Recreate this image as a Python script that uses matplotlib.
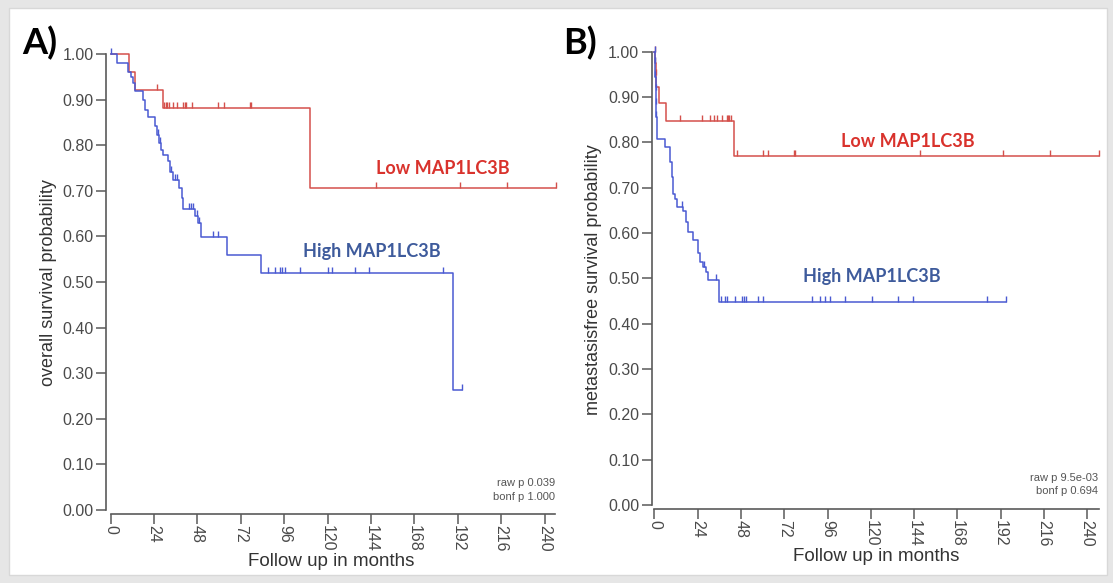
import numpy as np
import matplotlib
matplotlib.use("Agg")
import matplotlib.pyplot as plt
from matplotlib.patches import Rectangle

# ---- data (months / survival probability) ----
# Panel A: overall survival
a_low_t = [0, 10.3, 13.4, 28.8, 110.2]
a_low_s = [1.0, 0.961, 0.921, 0.881, 0.705]
a_low_end = 246.3
a_low_cens = [25.8, 29.5, 30.4, 31.3, 32.2, 34.6, 36.5, 40.2, 41.1, 41.6, 44.8,
              59.5, 62.7, 77.0, 77.6, 147.0, 193.2, 219.0, 246.3]

a_high_t = [0, 3.7, 9.8, 11.0, 12.5, 13.4, 17.7, 18.8, 20.8, 24.5, 25.8, 26.9, 27.8,
            29.1, 31.9, 32.8, 34.6, 37.9, 39.3, 40.2, 46.6, 48.5, 49.8, 64.2, 83.1, 189.2]
a_high_s = [1.0, 0.98, 0.961, 0.95, 0.936, 0.918, 0.899, 0.877, 0.862, 0.842, 0.822,
            0.804, 0.789, 0.778, 0.766, 0.742, 0.724, 0.705, 0.684, 0.66, 0.645, 0.629,
            0.599, 0.559, 0.519, 0.262]
a_high_end = 194.1
a_high_cens = [0, 26.3, 27.3, 33.3, 35.5, 36.5, 43.5, 44.5, 45.5, 47.5, 49.0, 56.7, 59.5,
               87.2, 90.9, 93.6, 94.6, 96.4, 104.7, 120.0, 122.6, 135.1, 143.0, 184.0, 194.1]

# Panel B: metastasis-free survival
b_low_t = [0, 0.3, 0.6, 1.0, 2.7, 6.4, 44.1]
b_low_s = [1.0, 0.974, 0.949, 0.923, 0.886, 0.847, 0.770]
b_low_end = 246.7
b_low_cens = [0.15, 0.45, 0.8, 14.3, 26.2, 30.8, 33.0, 34.8, 37.3, 40.4, 41.0, 41.5, 42.3,
              45.6, 60.3, 63.1, 77.2, 77.7, 147.3, 193.5, 219.4, 246.7]

b_high_t = [0, 0.2, 0.4, 0.6, 0.8, 1.0, 1.2, 5.8, 8.6, 9.5, 10.1, 11.4, 12.3, 16.0, 17.5,
            18.7, 21.5, 24.3, 25.2, 27.1, 28.5, 29.8, 35.9]
b_high_s = [1.0, 0.975, 0.945, 0.915, 0.885, 0.855, 0.807, 0.789, 0.757, 0.724, 0.687,
            0.676, 0.658, 0.649, 0.625, 0.603, 0.584, 0.555, 0.536, 0.525, 0.514, 0.496, 0.448]
b_high_end = 194.8
b_high_cens = [0.1, 0.3, 0.5, 0.7, 0.9, 1.1, 15.1, 27.6, 34.1, 36.9, 39.1, 40.4, 44.6, 48.5,
               49.6, 50.7, 57.6, 60.3, 87.5, 91.8, 94.5, 97.3, 105.6, 120.5, 135.2, 143.6,
               184.2, 194.8]

x_ticks = list(range(0, 241, 24))
y_ticks = [i / 10 for i in range(11)]

RED = "#d4504b"
BLUE = "#4a5ad2"
RED_TXT = "#d9322c"
BLUE_TXT = "#3e5b9c"
AX_COL = "#5a5a5a"

plt.rcParams["font.family"] = ["Liberation Sans", "DejaVu Sans"]

fig = plt.figure(figsize=(11.13, 5.83), dpi=100)
fig.patch.set_facecolor("#e6e6e6")
fig.patches.append(Rectangle((9 / 1113, 8 / 583), (1107 - 9) / 1113, (575 - 8) / 583,
                             transform=fig.transFigure, facecolor="white",
                             edgecolor="#d8d8d8", lw=1, zorder=-5))


def km(ax, t, s, end, cens, col):
    t = np.asarray(t)
    s = np.asarray(s)
    ax.step(np.append(t, end), np.append(s, s[-1]), where="post", color=col, lw=1.1,
            clip_on=False, zorder=3)
    idx = np.searchsorted(t, cens, side="right") - 1
    ax.plot(cens, s[idx], ls="none", marker=[(0, 0), (0, 1)], ms=8, mec=col, mew=1.0,
            clip_on=False, zorder=3)


def style(ax, ylabel, xmin, xmax):
    ax.set_facecolor("none")
    ax.set_xlim(xmin, 247)
    ax.set_ylim(-0.009, 1.005)
    for side in ("top", "right"):
        ax.spines[side].set_visible(False)
    ax.spines["left"].set_bounds(0, 1)
    ax.spines["bottom"].set_bounds(0, xmax)
    for side in ("left", "bottom"):
        ax.spines[side].set_color(AX_COL)
        ax.spines[side].set_linewidth(1.2)
    ax.set_yticks(y_ticks)
    ax.set_yticklabels([f"{v:.2f}" for v in y_ticks])
    ax.set_xticks(x_ticks)
    ax.set_xticklabels([str(v) for v in x_ticks], rotation=-90)
    ax.tick_params(axis="both", colors=AX_COL, labelcolor="#4a4a4a", labelsize=11.5,
                   length=7, width=1.1)
    ax.tick_params(axis="x", pad=1)
    ax.tick_params(axis="y", pad=2)
    ax.set_xlabel("Follow up in months", fontsize=13.5, color="#333333", labelpad=1)
    ax.set_ylabel(ylabel, fontsize=13, color="#333333", labelpad=4)


# Panel A
axA = fig.add_axes([106 / 1113, (583 - 514) / 583, (557.3 - 106) / 1113, (514 - 51.7) / 583])
km(axA, a_low_t, a_low_s, a_low_end, a_low_cens, RED)
km(axA, a_high_t, a_high_s, a_high_end, a_high_cens, BLUE)
style(axA, "overall survival probability", -2.6, 246)
axA.text(146.7, 0.749, "Low MAP1LC3B", color=RED_TXT, fontsize=13, fontweight="bold",
         family="Lato", va="center", ha="left")
axA.text(106.2, 0.566, "High MAP1LC3B", color=BLUE_TXT, fontsize=13, fontweight="bold",
         family="Lato", va="center", ha="left")
axA.text(246, 0.06, "raw p 0.039", fontsize=8, color="#555555", ha="right", va="center")
axA.text(246, 0.028, "bonf p 1.000", fontsize=8, color="#555555", ha="right", va="center")

# Panel B
axB = fig.add_axes([651.7 / 1113, (583 - 509) / 583, (1099.8 - 651.7) / 1113, (509 - 49.4) / 583])
km(axB, b_low_t, b_low_s, b_low_end, b_low_cens, RED)
km(axB, b_high_t, b_high_s, b_high_end, b_high_cens, BLUE)
style(axB, "metastasisfree survival probability", -1.55, 246.3)
axB.text(103.4, 0.801, "Low MAP1LC3B", color=RED_TXT, fontsize=13, fontweight="bold",
         family="Lato", va="center", ha="left")
axB.text(82.5, 0.505, "High MAP1LC3B", color=BLUE_TXT, fontsize=13, fontweight="bold",
         family="Lato", va="center", ha="left")
axB.text(246, 0.06, "raw p 9.5e-03", fontsize=8, color="#555555", ha="right", va="center")
axB.text(246, 0.03, "bonf p 0.694", fontsize=8, color="#555555", ha="right", va="center")

fig.text(22 / 1113, 1 - 54 / 583, "A)", fontsize=26, fontweight="bold", family="Lato",
         ha="left", va="baseline")
fig.text(563 / 1113, 1 - 54 / 583, "B)", fontsize=26, fontweight="bold", family="Lato",
         ha="left", va="baseline")

fig.savefig("out.png", dpi=100, facecolor=fig.get_facecolor())
